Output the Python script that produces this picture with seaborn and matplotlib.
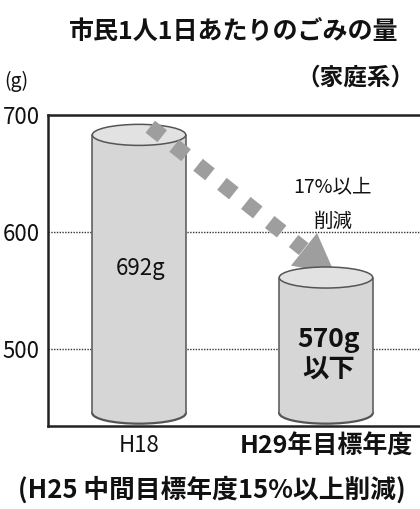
import matplotlib
matplotlib.use("Agg")
import matplotlib.pyplot as plt
import seaborn as sns
import pandas as pd
import numpy as np
from matplotlib.patches import Ellipse

# Household waste per citizen per day (grams)
years = ["H18", "H29年目標年度"]
grams = [692, 570]
value_labels = ["692g", "570g\n以下"]
reduction_note = "17%以上\n削減"
title = "市民1人1日あたりのごみの量"
subtitle = "（家庭系）"
unit = "(g)"
footnote = "(H25 中間目標年度15%以上削減)"
yticks = [500, 600, 700]

sns.set_theme(style="white")
plt.rcParams["font.family"] = ["Noto Sans CJK JP", "DejaVu Sans"]

W, H = 420, 509
fig = plt.figure(figsize=(W / 100, H / 100), dpi=100)
ax = fig.add_axes([48 / W, 1 - 426 / H, 1 - 48 / W, (426 - 115) / H])

df = pd.DataFrame({"year": years, "grams": grams})
bar_w = 0.5
sns.barplot(data=df, x="year", y="grams", color="#d6d6d6", saturation=1,
            width=bar_w, linewidth=0, ax=ax)

ax.set_ylim(434, 700)
ax.set_xlim(-0.487, 1.503)

body_col = "#d6d6d6"
top_col = "#e2e2e2"
edge_col = "#555555"
cap_h = 18       # ellipse height in data units
base = 445       # centre of the cylinder's bottom ellipse

# turn each bar into a cylinder
for i, (patch, val) in enumerate(zip(ax.patches, grams)):
    z = 3 + 3 * i
    xc = patch.get_x() + patch.get_width() / 2
    w = patch.get_width()
    top_c = val - cap_h / 2
    patch.set_y(base)
    patch.set_height(top_c - base)
    patch.set_zorder(z)
    ax.add_patch(Ellipse((xc, base), w, cap_h, facecolor=body_col,
                         edgecolor=edge_col, lw=1.6, zorder=z - 0.5))
    for xs in (xc - w / 2, xc + w / 2):
        ax.plot([xs, xs], [base, top_c], color=edge_col, lw=1.1, zorder=z + 0.2)
    ax.add_patch(Ellipse((xc, top_c), w, cap_h, facecolor=top_col,
                         edgecolor=edge_col, lw=1.1, zorder=z + 0.4))

# dashed arrow from the first bar's top down to the target bar
start = (0.06, grams[0] - 2)
tip = (1.048, grams[1] - 6)
p0 = ax.transData.transform(start)
p1 = ax.transData.transform(tip)
d = (p1 - p0) / np.linalg.norm(p1 - p0)
head_len = 40
pb = p1 - d * head_len
base_pt = ax.transData.inverted().transform(pb)
arrow_col = "#9e9e9e"
ax.plot([start[0], base_pt[0]], [start[1], base_pt[1]], color=arrow_col,
        lw=11, linestyle=(0, (1, 1)), solid_capstyle="butt",
        dash_capstyle="butt", zorder=5)
ax.annotate("", xy=tip, xytext=base_pt,
            arrowprops=dict(arrowstyle="-|>,head_length=0.95,head_width=0.5",
                            mutation_scale=30, color=arrow_col, lw=0,
                            shrinkA=0, shrinkB=0),
            zorder=5)

# value labels
ax.text(0.01, 569, value_labels[0], ha="center", va="center", fontsize=16,
        color="#111111", zorder=10)
ax.text(1.015, 495, value_labels[1], ha="center", va="center", fontsize=19,
        fontweight="bold", color="#111111", linespacing=1.2, zorder=10)
ax.text(1.037, 624, reduction_note, ha="center", va="center", fontsize=14,
        color="#111111", linespacing=1.85, zorder=10)

# gridlines and frame
ax.set_yticks(yticks)
ax.yaxis.grid(True, color="#333333", linestyle=(0, (1, 1)), lw=1)
ax.xaxis.grid(False)
ax.set_axisbelow(True)
for s in ("left", "top", "bottom"):
    ax.spines[s].set_visible(True)
    ax.spines[s].set_color("#222222")
    ax.spines[s].set_linewidth(1.8)
ax.spines["right"].set_visible(False)
ax.set_xlabel("")
ax.set_ylabel("")
ax.tick_params(axis="y", length=0, pad=6, labelsize=16, labelcolor="#111111")
ax.tick_params(axis="x", length=0, pad=6, labelcolor="#111111")
xl = ax.get_xticklabels()
xl[0].set_fontsize(16)
xl[1].set_fontsize(18)
xl[1].set_fontweight("bold")

# titles and notes
fig.text(234 / W, 1 - 32 / H, title, ha="center", va="center", fontsize=18,
         fontweight="bold", color="#111111")
fig.text(414 / W, 1 - 78 / H, subtitle, ha="right", va="center", fontsize=17,
         fontweight="bold", color="#111111")
fig.text(4 / W, 1 - 81 / H, unit, ha="left", va="center", fontsize=14,
         color="#111111")
fig.text(212 / W, 1 - 490 / H, footnote, ha="center", va="center", fontsize=18.5,
         fontweight="bold", color="#111111")

fig.savefig("out.png", dpi=100)
